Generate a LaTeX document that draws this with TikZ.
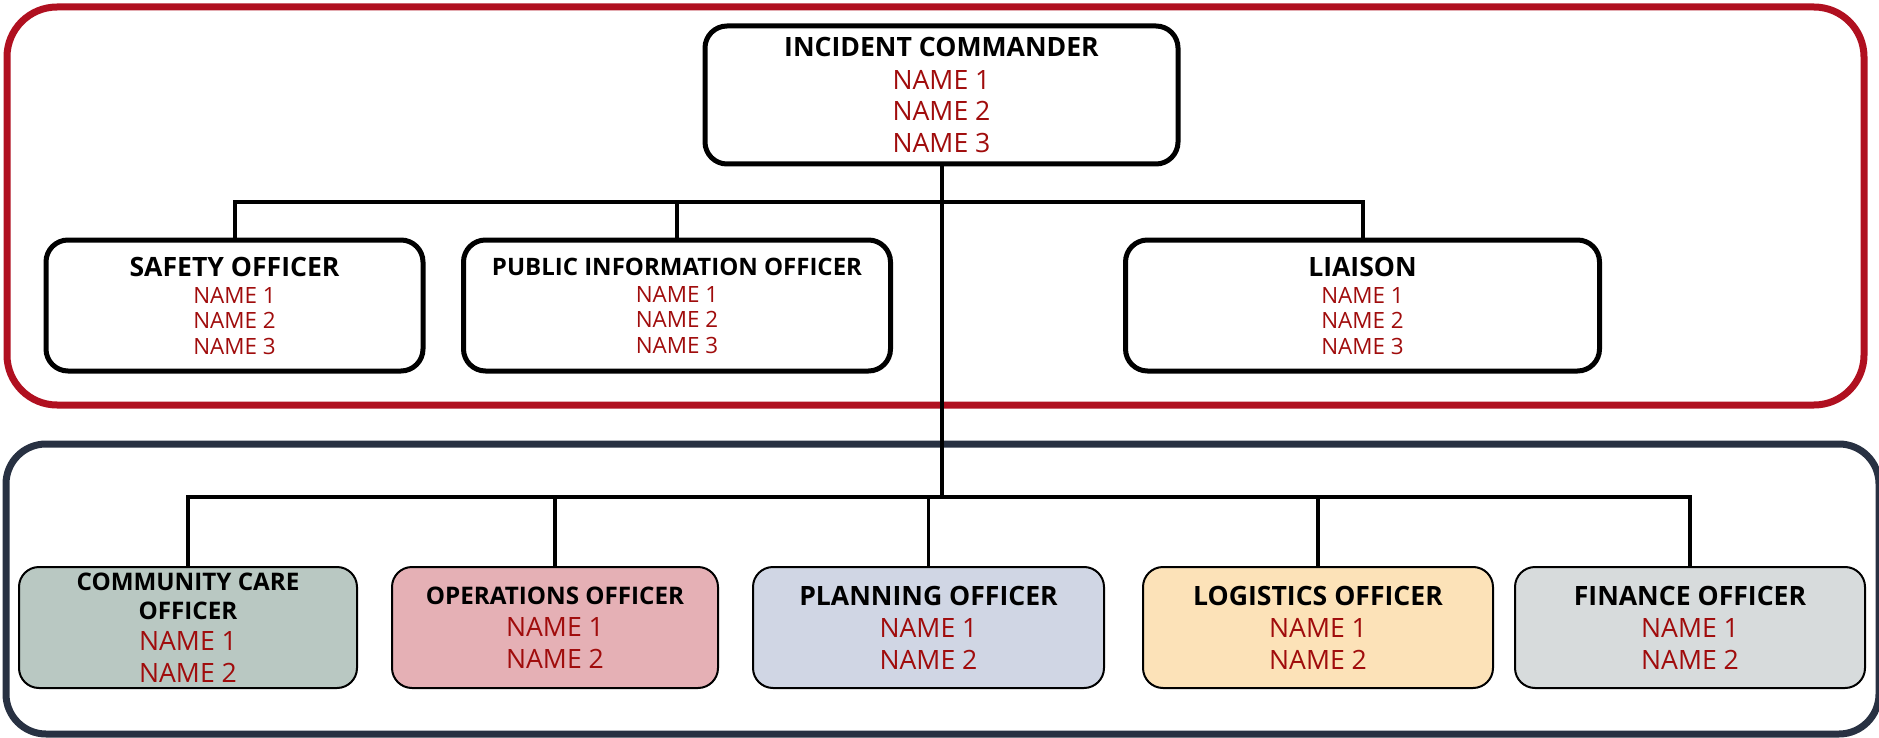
\documentclass[tikz,border=0pt]{standalone}
\usepackage{fontspec}
\setmainfont{Open Sans}
\usepackage{tikz}
\usetikzlibrary{positioning}

\definecolor{framered}{HTML}{B01020}
\definecolor{framenavy}{HTML}{283142}
\definecolor{namered}{HTML}{A00C0C}
\definecolor{carefill}{HTML}{B9C8C2}
\definecolor{opsfill}{HTML}{E5B0B5}
\definecolor{planfill}{HTML}{D0D6E4}
\definecolor{logfill}{HTML}{FCE2B8}
\definecolor{finfill}{HTML}{D7DBDC}

\newcommand{\staffname}[1]{\textcolor{namered}{#1}}
\newcommand{\fsz}[1]{\fontsize{#1}{#1}\selectfont}

\begin{document}
\begin{tikzpicture}[x=1pt,y=-1pt]
\tikzstyle{every node}+=[inner sep=0pt,align=center]
\tikzstyle{cmdbox}=[draw=black,fill=white,line width=5pt,rounded corners=22pt]
\tikzstyle{secbox}=[draw=black,line width=2pt,rounded corners=20pt,minimum height=121pt,
  font=\fontsize{26.6}{31.5}\selectfont]
\tikzstyle{link}=[black,line width=4pt]
\useasboundingbox (0,0) rectangle (1879,738);

% Frames
\draw [framered,line width=7pt,rounded corners=50pt] (7,7) rectangle (1864,405);
\draw [framenavy,line width=7pt,rounded corners=40pt] (6,444) rectangle (1879,734);

% Command staff
\node [cmdbox,minimum width=473pt,minimum height=138pt,font=\fontsize{26.6}{31.5}\selectfont] (ic) at (941.5,95)
{\textbf{INCIDENT COMMANDER}\\[1pt] \staffname{NAME 1}\\ \staffname{NAME 2}\\ \staffname{NAME 3}};
\node [cmdbox,minimum width=377pt,minimum height=131pt,font=\fontsize{22.4}{25.5}\selectfont] (safety) at (234.5,305.5)
{\fsz{26.6}\textbf{SAFETY OFFICER}\\[1.5pt] \staffname{NAME 1}\\ \staffname{NAME 2}\\ \staffname{NAME 3}};
\node [cmdbox,minimum width=427pt,minimum height=131pt,font=\fontsize{22.4}{25.5}\selectfont] (pio) at (677,305.5)
{\fsz{24}\textbf{PUBLIC INFORMATION OFFICER}\\[1.5pt] \staffname{NAME 1}\\ \staffname{NAME 2}\\ \staffname{NAME 3}};
\node [cmdbox,minimum width=474pt,minimum height=131pt,font=\fontsize{22.4}{25.5}\selectfont] (liaison) at (1362.5,305.5)
{\fsz{26.6}\textbf{LIAISON}\\[1.5pt] \staffname{NAME 1}\\ \staffname{NAME 2}\\ \staffname{NAME 3}};

% General staff
\node [secbox,fill=carefill,minimum width=338pt] (care) at (188,627.5)
{\fsz{24.2}\textbf{COMMUNITY CARE}\\[-2.5pt] \fsz{24.2}\textbf{OFFICER}\\ \staffname{NAME 1}\\ \staffname{NAME 2}};
\node [secbox,fill=opsfill,minimum width=326pt] (ops) at (555,627.5)
{\fsz{24.2}\textbf{OPERATIONS OFFICER}\\[1pt] \staffname{NAME 1}\\ \staffname{NAME 2}};
\node [secbox,fill=planfill,minimum width=351pt] (plan) at (928.5,627.5)
{\fsz{26.6}\textbf{PLANNING OFFICER}\\[1pt] \staffname{NAME 1}\\ \staffname{NAME 2}};
\node [secbox,fill=logfill,minimum width=350pt] (logi) at (1318,627.5)
{\fsz{26.6}\textbf{LOGISTICS OFFICER}\\[1pt] \staffname{NAME 1}\\ \staffname{NAME 2}};
\node [secbox,fill=finfill,minimum width=350pt] (fin) at (1690,627.5)
{\fsz{26.6}\textbf{FINANCE OFFICER}\\[1pt] \staffname{NAME 1}\\ \staffname{NAME 2}};

% Bus lines
\coordinate (topbus) at (0,202);
\coordinate (lowbus) at (0,497);

% Command staff links
\draw [link] (safety.north) -- (safety.north |- topbus) -- (liaison.north |- topbus) -- (liaison.north);
\draw [link] (pio.north) -- (pio.north |- topbus);
\draw [link] (ic.south) -- (ic.south |- lowbus);

% General staff links
\draw [link,line width=3.5pt] (care.north) -- (care.north |- lowbus) -- (fin.north |- lowbus) -- (fin.north);
\foreach \n in {ops,plan,logi}
  \draw [link,line width=3.5pt] (\n.north) -- (\n.north |- lowbus);
\end{tikzpicture}
\end{document}
